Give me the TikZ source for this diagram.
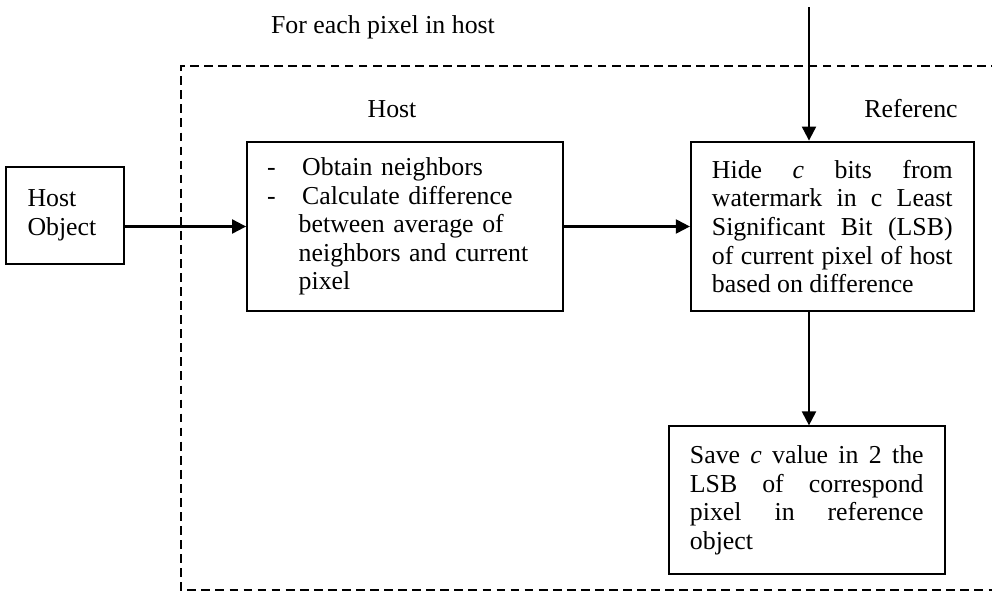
\documentclass[tikz,border=0pt]{standalone}
\usepackage{fontspec}
\setmainfont{Liberation Serif}
\usepackage{tikz}
\usetikzlibrary{arrows.meta, positioning}
\tikzset{
  stepbox/.style={draw, line width=1.1pt, inner ysep=4pt,
                  font=\fontsize{14.7}{16.3}\selectfont},
  hostbox/.style={stepbox, align=left, text width=43pt, inner xsep=12pt, minimum height=55pt},
  calcbox/.style={stepbox, align=left, text width=157pt, inner xsep=11.4pt, minimum height=96.7pt},
  hidebox/.style={stepbox, align=justify, text width=137pt, inner xsep=12pt, minimum height=96.7pt},
  savebox/.style={stepbox, align=justify, text width=133pt, inner xsep=12pt, minimum height=84pt},
  flowarrow/.style={-{Triangle[length=8pt, width=8pt]}, line width=1.2pt},
  loopframe/.style={dashed, line width=0.8pt, dash pattern=on 5pt off 3pt},
  smalllabel/.style={font=\fontsize{14.7}{16.3}\selectfont, inner sep=0pt}
}

\begin{document}
\begin{tikzpicture}[x=0.02cm, y=-0.02cm]
\useasboundingbox (0,0) rectangle (992,592);

% Main row
\node[calcbox] (calc) at (405,226.5) {%
  \makebox[20pt][l]{-}Obtain neighbors\\
  \makebox[20pt][l]{-}Calculate difference\\
  \hspace*{18pt}between average of\\
  \hspace*{18pt}neighbors and current\\
  \hspace*{18pt}pixel};
\node[hostbox, left=2.42cm of calc, yshift=0.22cm] (host) {Host\\Object};
\node[hidebox, right=2.52cm of calc] (hide) {Hide \textit{c} bits from\linebreak
  watermark in c Least\linebreak Significant Bit (LSB)\linebreak
  of current pixel of host\linebreak based on difference};

% Result
\node[savebox, below=2.26cm of hide, xshift=-0.51cm] (save) {Save \textit{c} value in 2 the\linebreak
  LSB of correspond\linebreak pixel in reference\linebreak object};

% Labels
\node[smalllabel, anchor=base] (loop) at (383,33) {For each pixel in host};
\node[smalllabel, anchor=base] (hostlbl) at (392,117) {Host};
\node[smalllabel, anchor=base east] (reflbl) at (958,117) {Referenc};

% Watermark input
\coordinate (wm) at (809,7);

% Arrows
\draw[flowarrow] (host.east |- calc.west) -- (calc.west);
\draw[flowarrow] (calc.east) -- (hide.west);
\draw[flowarrow] (wm) -- (wm |- hide.north);
\draw[flowarrow] (wm |- hide.south) -- (wm |- save.north);

% Loop frame
\draw[loopframe] (1000,66) -| (181,590) -- (1000,590);

\end{tikzpicture}
\end{document}
